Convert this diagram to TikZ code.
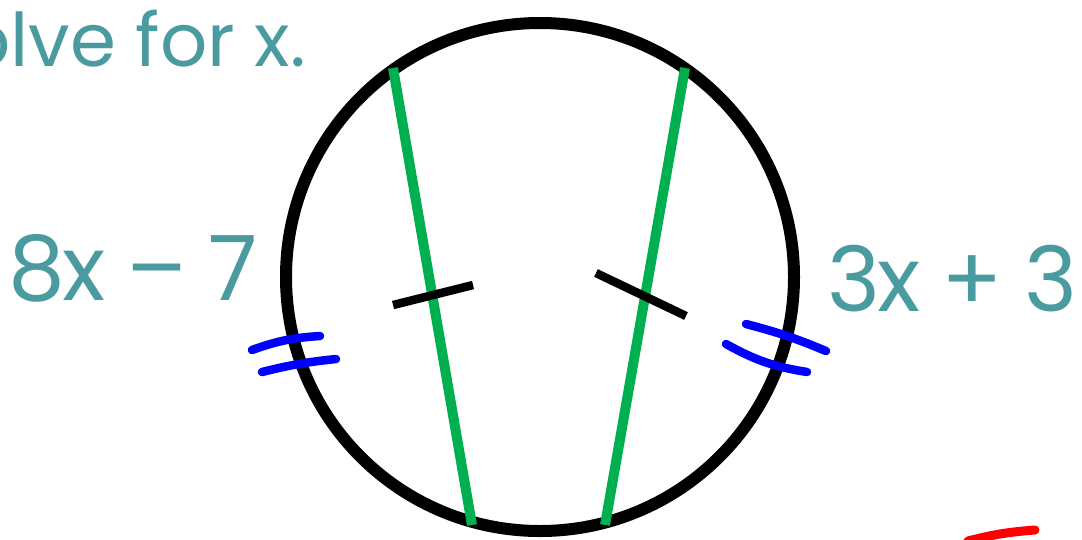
\documentclass[tikz,border=0pt]{standalone}
\usepackage{fontspec}
\setmainfont{Poppins}
\definecolor{teal}{HTML}{4A9BA0}
\definecolor{chordgreen}{HTML}{00B050}
\begin{document}
\begin{tikzpicture}[
x=1pt, y=-1pt,
label/.style={text=teal, inner sep=0pt, font=\fontsize{90}{90}\selectfont\addfontfeature{LetterSpace=-3}},
title/.style={text=teal, inner sep=0pt, font=\fontsize{74}{74}\selectfont},
rim/.style={draw=black, line width=12pt},
chord/.style={draw=chordgreen, line width=10pt},
tick/.style={draw=black, line width=8.5pt},
hash/.style={draw=blue, line width=8.5pt, line cap=round},
pen/.style={draw=red, line width=9pt, line cap=round}
]
\useasboundingbox (0,0) rectangle (1082,539);

% text
\node[title, anchor=base east] (head) at (306,66) {Solve for x.};
\node[label, anchor=base west] (left) at (8,300) {8x – 7};
\node[label, anchor=base east] (right) at (1078,311) {3x + 3};

% circle and chords
\coordinate (c) at (540,277);
\draw[rim] (c) circle (254);
\coordinate (a1) at (393,68);
\coordinate (a2) at (472,525);
\coordinate (b1) at (685,68);
\coordinate (b2) at (605,525);
\draw[chord] (a1) -- (a2);
\draw[chord] (b1) -- (b2);

% congruence ticks
\coordinate (t1) at (393,305);
\coordinate (t2) at (473,285);
\coordinate (u1) at (596,273);
\coordinate (u2) at (686,316);
\draw[tick] (t1) -- (t2);
\draw[tick] (u1) -- (u2);

% arc marks
\coordinate (p1) at (252,350);
\coordinate (p2) at (320,336);
\coordinate (q1) at (262,372);
\coordinate (q2) at (336,359);
\draw[hash] (p1) to[bend left=8] (p2);
\draw[hash] (q1) to[bend left=4] (q2);
\coordinate (r1) at (746,324);
\coordinate (r2) at (826,351);
\coordinate (s1) at (726,344);
\coordinate (s2) at (807,372);
\draw[hash] (r1) to[bend left=4] (r2);
\draw[hash] (s1) to[bend right=10] (s2);

% pen stroke
\coordinate (w1) at (968,541);
\coordinate (w2) at (1035,530);
\draw[pen] (w1) to[bend left=5] (w2);
\end{tikzpicture}
\end{document}
